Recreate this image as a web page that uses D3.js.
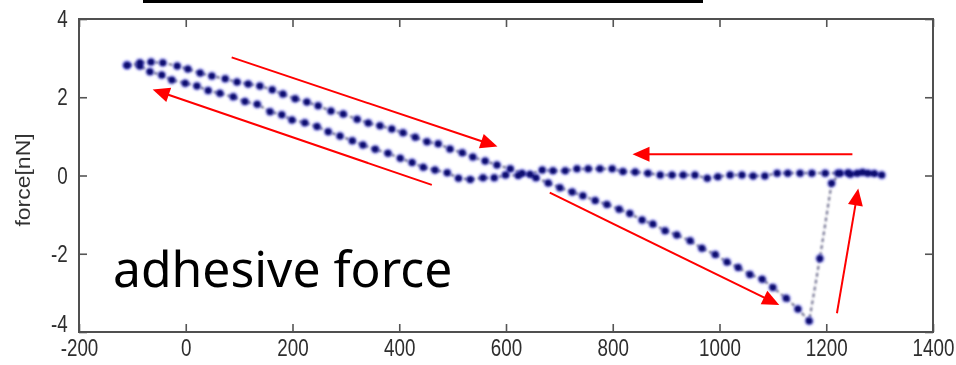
<!DOCTYPE html>
<html>
<head>
<meta charset="utf-8">
<script src="https://cdn.jsdelivr.net/npm/d3@7"></script>
<style>
  html, body { margin: 0; padding: 0; background: #fff; }
  svg { display: block; }
</style>
</head>
<body>
<svg id="chart" width="956" height="365"></svg>
<script>
// Tip displacement on approach (nm) and measured force (nN)
const approachZ = [-110,-86,-65,-43,-16,4,27,49,74,96,117,139,162,182,205,227,248,272,295,321,342,364,386,407,430,452,473,495,518,538,561,583,608,630,656,679,701,724,744,767,789,812,832,855,875,898,920,945,967,992,1014,1035,1057,1080,1100,1125,1147,1168,1188,1210,1226,1241,1258,1278,1304];
const approachF = [2.82,2.88,2.90,2.88,2.80,2.72,2.62,2.54,2.47,2.39,2.34,2.29,2.19,2.08,1.96,1.88,1.78,1.65,1.57,1.44,1.34,1.27,1.19,1.09,0.98,0.86,0.81,0.68,0.58,0.47,0.37,0.27,0.17,0.06,-0.06,-0.19,-0.31,-0.42,-0.52,-0.64,-0.74,-0.86,-0.97,-1.14,-1.24,-1.41,-1.52,-1.67,-1.86,-2.02,-2.21,-2.35,-2.53,-2.65,-2.86,-3.14,-3.41,-3.72,-2.12,-0.20,0.06,0.07,0.06,0.06,0.01];

// Tip displacement on retraction (nm) and measured force (nN)
const retractZ = [1290,1268,1245,1222,1198,1173,1151,1128,1108,1085,1063,1042,1020,997,977,954,932,911,889,866,842,819,799,776,754,733,711,688,668,645,623,599,578,557,533,511,490,467,445,424,402,379,355,332,312,289,267,246,223,199,180,158,134,111,89,64,42,21,-1,-26,-45,-67,-86,-110];
const retractF = [0.05,0.08,0.03,0.06,0.06,0.06,0.06,0.06,0.06,-0.01,-0.01,0.01,0.01,-0.03,-0.07,0.01,0.01,0.01,0.01,0.06,0.09,0.10,0.17,0.17,0.17,0.17,0.12,0.12,0.14,0.03,0.00,0.01,-0.06,-0.06,-0.10,-0.07,0.07,0.14,0.21,0.33,0.44,0.57,0.67,0.78,0.89,1.01,1.12,1.25,1.35,1.42,1.55,1.63,1.82,1.89,2.01,2.10,2.17,2.29,2.36,2.44,2.57,2.65,2.80,2.82];

// Axis ticks
const xTicks = [-200, 0, 200, 400, 600, 800, 1000, 1200, 1400];
const yTicks = [-4, -2, 0, 2, 4];
const yLabel = "force[nN]";
const note = "adhesive force";

// Direction arrows, [z, F] at tail and at head
const arrowFrom = [[86, 3.02], [461, -0.24], [1249, 0.54], [682, -0.44], [1220, -3.52]];
const arrowTo   = [[584, 0.74], [-62, 2.20], [837, 0.54], [1112, -3.31], [1260, -0.33]];

const svg = d3.select("#chart");
const W = 956, H = 365;
const plotL = 79, plotR = 933, plotT = 19, plotB = 332;

svg.append("rect").attr("width", W).attr("height", H).attr("fill", "#fff");

const x = d3.scaleLinear().domain([-200, 1400]).range([plotL, plotR]);
const y = d3.scaleLinear().domain([-4, 4]).range([plotB, plotT]);

const defs = svg.append("defs");
defs.append("filter").attr("id", "soft")
  .attr("x", "-50%").attr("y", "-50%").attr("width", "200%").attr("height", "200%")
  .append("feGaussianBlur").attr("stdDeviation", 0.8);
defs.append("filter").attr("id", "softText")
  .append("feGaussianBlur").attr("stdDeviation", 0.45);

// Bar along the top edge
svg.append("rect").attr("x", 143).attr("y", 0).attr("width", 560).attr("height", 3).attr("fill", "#000");

// Axes: ticks point inward on all four sides
const tickFont = "'Liberation Sans', Arial, sans-serif";
const squeeze = 0.8;
const fmt = d => d3.format("d")(d).replace("\u2212", "-");

const gx = svg.append("g").attr("transform", `translate(0,${plotB})`)
  .call(d3.axisBottom(x).tickValues(xTicks).tickSizeInner(-8).tickSizeOuter(0).tickPadding(7).tickFormat(fmt));
const gy = svg.append("g").attr("transform", `translate(${plotL},0)`)
  .call(d3.axisLeft(y).tickValues(yTicks).tickSizeInner(-8).tickSizeOuter(0).tickPadding(14).tickFormat(fmt));
const gt = svg.append("g").attr("transform", `translate(0,${plotT})`)
  .call(d3.axisTop(x).tickValues(xTicks).tickSizeInner(-8).tickSizeOuter(0).tickFormat(""));
const gr = svg.append("g").attr("transform", `translate(${plotR},0)`)
  .call(d3.axisRight(y).tickValues(yTicks).tickSizeInner(-8).tickSizeOuter(0).tickFormat(""));

[gx, gy, gt, gr].forEach(g => {
  g.select(".domain").remove();
  g.selectAll(".tick line").attr("stroke", "#555").attr("stroke-width", 1.6);
  g.selectAll(".tick text")
    .attr("fill", "#2e2e2e")
    .style("font-family", tickFont)
    .style("font-size", "23.5px")
    .attr("transform", `scale(${squeeze},1)`)
    .attr("filter", "url(#softText)");
});
// keep the lowest y label clear of the first x label
gy.selectAll(".tick text").filter(d => d === -4).attr("dy", "-0.04em");

svg.append("rect")
  .attr("x", plotL).attr("y", plotT).attr("width", plotR - plotL).attr("height", plotB - plotT)
  .attr("fill", "none").attr("stroke", "#505050").attr("stroke-width", 2);

svg.append("text")
  .attr("transform", `translate(30,180) scale(0.85,1) rotate(-90)`)
  .attr("text-anchor", "middle")
  .attr("fill", "#333")
  .style("font-family", tickFont)
  .style("font-size", "23px")
  .attr("filter", "url(#softText)")
  .text(yLabel);

// Force curve: dotted trace with point markers
const trace = approachZ.map((z, i) => [z, approachF[i]])
  .concat(retractZ.map((z, i) => [z, retractF[i]]));

svg.append("path")
  .datum(trace)
  .attr("d", d3.line().x(d => x(d[0])).y(d => y(d[1])))
  .attr("fill", "none")
  .attr("stroke", "#55557a")
  .attr("stroke-width", 1.8)
  .attr("stroke-dasharray", "4,3")
  .attr("filter", "url(#soft)");

const dots = svg.append("g").attr("filter", "url(#soft)");
dots.selectAll("circle.halo").data(trace).join("circle")
  .attr("class", "halo")
  .attr("cx", d => x(d[0])).attr("cy", d => y(d[1]))
  .attr("r", 5).attr("fill", "#4a4af0").attr("opacity", 0.35);
dots.selectAll("circle.dot").data(trace).join("circle")
  .attr("class", "dot")
  .attr("cx", d => x(d[0])).attr("cy", d => y(d[1]))
  .attr("r", 3.5).attr("fill", "#0e0e70");

// Red direction arrows
const arrows = svg.append("g");
arrowFrom.forEach((a, i) => {
  const x1 = x(a[0]), y1 = y(a[1]);
  const x2 = x(arrowTo[i][0]), y2 = y(arrowTo[i][1]);
  const len = Math.hypot(x2 - x1, y2 - y1);
  const ux = (x2 - x1) / len, uy = (y2 - y1) / len;
  const headL = 17, headW = 7.5;
  const bx = x2 - ux * headL, by = y2 - uy * headL;
  arrows.append("line")
    .attr("x1", x1).attr("y1", y1).attr("x2", bx + ux * 2).attr("y2", by + uy * 2)
    .attr("stroke", "#ff0000").attr("stroke-width", 2);
  arrows.append("polygon")
    .attr("points", [[x2, y2], [bx - uy * headW, by + ux * headW], [bx + uy * headW, by - ux * headW]]
      .map(p => p.join(",")).join(" "))
    .attr("fill", "#ff0000");
});

// Annotation text
const label = svg.append("text")
  .attr("x", 113).attr("y", 287)
  .attr("fill", "#000")
  .style("font-family", "'Noto Sans', 'Open Sans', sans-serif")
  .style("font-size", "50px")
  .text(note);
const targetW = 339;
const w0 = label.node().getComputedTextLength();
label.style("font-size", (50 * targetW / w0).toFixed(1) + "px");
</script>
</body>
</html>
